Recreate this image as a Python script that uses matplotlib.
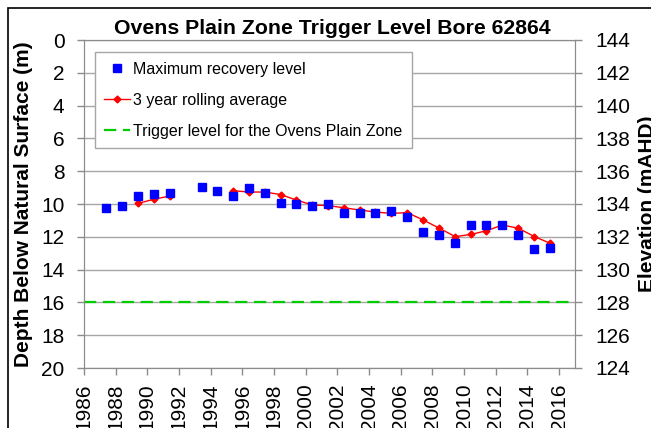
import numpy as np
import matplotlib
matplotlib.use('Agg')
import matplotlib.pyplot as plt
from matplotlib.patches import Rectangle

plt.rcParams['font.family'] = ['Liberation Sans', 'DejaVu Sans']

# Maximum recovery level (depth below natural surface, m), dated mid-year
years = [1987.42, 1988.43, 1989.42, 1990.42, 1991.43, 1993.45, 1994.40, 1995.41,
         1996.43, 1997.43, 1998.43, 1999.41, 2000.42, 2001.41, 2002.42, 2003.43,
         2004.40, 2005.41, 2006.42, 2007.43, 2008.44, 2009.44, 2010.45, 2011.41,
         2012.42, 2013.43, 2014.44, 2015.45]
depth = [10.23, 10.10, 9.49, 9.37, 9.31, 8.95, 9.19, 9.49,
         9.02, 9.31, 9.92, 10.02, 10.10, 10.02, 10.53, 10.53,
         10.53, 10.41, 10.77, 11.69, 11.89, 12.36, 11.26, 11.26,
         11.26, 11.89, 12.73, 12.70]

# 3 year rolling average (NaN marks the break in the record)
avg_years = [1989.42, 1990.42, 1991.43, 1993.0, 1995.41, 1996.43, 1997.43,
             1998.43, 1999.41, 2000.42, 2001.41, 2002.42, 2003.43, 2004.40,
             2005.41, 2006.42, 2007.43, 2008.44, 2009.44, 2010.45, 2011.41,
             2012.42, 2013.43, 2014.44, 2015.45]
avg_depth = [9.96, 9.71, 9.51, np.nan, 9.19, 9.27, 9.27,
             9.43, 9.76, 10.06, 10.10, 10.23, 10.37, 10.49,
             10.57, 10.53, 10.98, 11.48, 11.99, 11.85, 11.63,
             11.28, 11.48, 11.99, 12.40]

trigger_depth = 16
depth_ticks = np.arange(0, 21, 2)
elev_ticks = np.arange(124, 145, 2)
year_ticks = np.arange(1986, 2017, 2)

W, H = 651, 428
fig = plt.figure(figsize=(W / 100, H / 100), dpi=100)
fig.patch.set_facecolor('white')
ax = fig.add_axes([84 / W, 1 - 368 / H, 491 / W, 328 / H])

grey = '#8c8c8c'
ax.set_xlim(1986, 2017)
ax.set_ylim(20, 0)
ax.set_yticks(depth_ticks)
ax.set_xticks(year_ticks)
ax.set_xticklabels([str(y) for y in year_ticks], rotation=90)
ax.grid(axis='y', color='#a6a6a6', linewidth=1.0)
ax.set_axisbelow(True)
for s in ax.spines.values():
    s.set_color(grey)
ax.tick_params(axis='both', colors=grey, labelcolor='black', labelsize=15,
               length=5, width=1)
ax.tick_params(axis='y', pad=9)
ax.tick_params(axis='x', pad=6)

ax.plot(years, depth, linestyle='none', marker='s', markersize=6,
        color='#0000ff', label='Maximum recovery level', zorder=4)
ax.plot(avg_years, avg_depth, color='#ff0000', linewidth=1.0, marker='D',
        markersize=3.5, label='3 year rolling average', zorder=3)
ax.axhline(trigger_depth, color='#00cc00', linewidth=1.6,
           linestyle=(0, (5.5, 3)), label='Trigger level for the Ovens Plain Zone',
           zorder=3)

ax.set_ylabel('Depth Below Natural Surface (m)', fontsize=15, fontweight='bold',
              labelpad=6)

ax2 = ax.twinx()
ax2.set_ylim(124, 144)
ax2.set_yticks(elev_ticks)
for s in ax2.spines.values():
    s.set_color(grey)
ax2.tick_params(axis='y', colors=grey, labelcolor='black', labelsize=15,
                length=5, width=1, pad=10)
ax2.set_ylabel('Elevation (mAHD)', fontsize=15, fontweight='bold', labelpad=5)

leg = ax.legend(loc='upper left', bbox_to_anchor=(0.022, 0.963), borderaxespad=0,
                fontsize=11.5, frameon=True, fancybox=False, edgecolor='#a6a6a6',
                framealpha=1, labelspacing=1.0, handlelength=1.6,
                handletextpad=0.2, borderpad=0.6)
leg.get_frame().set_linewidth(1.0)

fig.text(332 / W, 1 - 29 / H, 'Ovens Plain Zone Trigger Level Bore 62864',
         ha='center', va='center', fontsize=15.3, fontweight='bold')

# outer chart border (right and bottom edges fall outside the image)
fig.patches.append(Rectangle((7.5 / W, -0.2), 1.2, 1.2 - 8 / H,
                             transform=fig.transFigure, fill=False,
                             edgecolor='black', linewidth=1.2))

fig.savefig('out.png', dpi=100)
